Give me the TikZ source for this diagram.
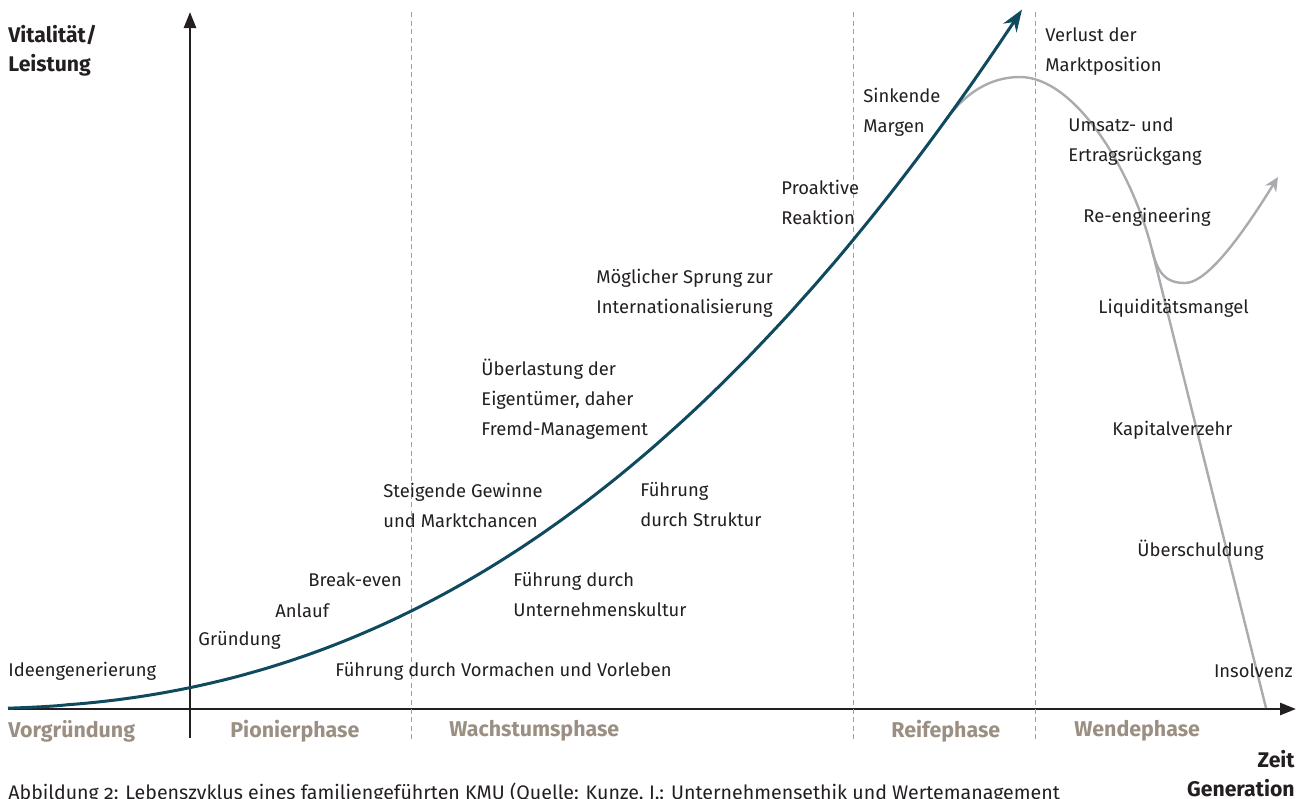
\documentclass[tikz,border=0pt]{standalone}
\usepackage{fontspec}
\setmainfont{Fira Sans}
\usetikzlibrary{arrows.meta}
\definecolor{curveblue}{HTML}{0F4A5E}
\definecolor{curvegray}{HTML}{A9ABAE}
\definecolor{dashgray}{HTML}{A69E96}
\definecolor{phasecol}{HTML}{9A8F82}
\definecolor{txt}{HTML}{231F20}
\begin{document}
\begin{tikzpicture}[x=0.5pt,y=-0.5pt,
  lbl/.style={anchor=west, inner sep=0pt, align=left, font=\fontsize{9.2}{15}\selectfont, text=txt},
  phase/.style={anchor=west, inner sep=0pt, font=\fontsize{10.7}{12}\selectfont\bfseries, text=phasecol},
  axislbl/.style={inner sep=0pt, font=\fontsize{10.6}{14.5}\selectfont\bfseries, text=txt},
  axisline/.style={line width=1.3pt, draw=txt, -{Triangle[length=8pt,width=6pt]}},
  phaseline/.style={draw=dashgray, line width=0.5pt, dash pattern=on 2.5pt off 1.8pt},
  bluecurve/.style={draw=curveblue, line width=1.5pt},
  graycurve/.style={draw=curvegray, line width=1.2pt},
  captionstyle/.style={anchor=base west, inner sep=0pt, font=\fontsize{9.8}{12}\selectfont\addfontfeatures{Numbers=OldStyle}, text=txt},
]
\useasboundingbox (0,0) rectangle (1311,798);
% axes
\coordinate (ybot) at (190,738);
\coordinate (ytop) at (190,12);
\coordinate (xl) at (8,709);
\coordinate (xr) at (1296,709);
\draw[axisline] (ybot) -- (ytop);
\draw[axisline] (xl) -- (xr);
% phase separators
\foreach \px/\nm in {411/a,853/b,1035/c}{
  \coordinate (d\nm t) at (\px,12);
  \coordinate (d\nm b) at (\px,740);
  \draw[phaseline] (d\nm t) -- (d\nm b);
}
% gray curve
\coordinate (gs) at (945,121);
\coordinate (gpeak) at (1020,77);
\coordinate (gj) at (1152,250);
\coordinate (gend) at (1266,708);
\coordinate (gmin) at (1185,283);
\coordinate (gtip) at (1278,177);
\draw[graycurve] (gs) .. controls (965,93) and (990,77) .. (gpeak)
  .. controls (1075,77) and (1132,170) .. (gj) -- (gend);
\draw[graycurve, -{Stealth[length=7pt,width=6.5pt]}] (gj) .. controls (1158,274) and (1166,283) .. (gmin)
  .. controls (1210,283) and (1250,222) .. (gtip);
% blue curve
\draw[bluecurve, -{Stealth[length=11pt,width=8pt]}] plot[domain=8:1022, samples=120, smooth] (\x, {709 - 469*pow((\x+50)/903, 2.33)});
% axis labels
\node[axislbl, anchor=west, align=left] (ylab) at (8,51) {Vitalität/\\Leistung};
\node[axislbl, anchor=east, align=right] (xlab) at (1295,774) {Zeit\\Generation};
% phases
\node[phase] (p1) at (8,731) {Vorgründung};
\node[phase] (p2) at (230,731) {Pionierphase};
\node[phase] (p3) at (449,731) {Wachstumsphase};
\node[phase] (p4) at (891,731) {Reifephase};
\node[phase] (p5) at (1074,731) {Wendephase};
% labels
\node[lbl] (l1) at (8,671) {Ideengenerierung};
\node[lbl] (l2) at (198,640) {Gründung};
\node[lbl] (l3) at (275,611) {Anlauf};
\node[lbl] (l4) at (308,580) {Break-even};
\node[lbl] (l5) at (335,671) {Führung durch Vormachen und Vorleben};
\node[lbl] (l6) at (383,505) {Steigende Gewinne\\und Marktchancen};
\node[lbl] (l7) at (513,595) {Führung durch\\Unternehmenskultur};
\node[lbl] (l8) at (481,399) {Überlastung der\\Eigentümer, daher\\Fremd-Management};
\node[lbl] (l9) at (640,505) {Führung\\durch Struktur};
\node[lbl] (l10) at (596,293) {Möglicher Sprung zur\\Internationalisierung};
\node[lbl] (l11) at (781,202) {Proaktive\\Reaktion};
\node[lbl] (l12) at (863,112) {Sinkende\\Margen};
\node[lbl] (l13) at (1045,52) {Verlust der\\Marktposition};
\node[lbl] (l14) at (1068,142) {Umsatz- und\\Ertragsrückgang};
\node[lbl] (l15) at (1083,217) {Re-engineering};
\node[lbl] (l16) at (1098,308) {Liquiditätsmangel};
\node[lbl] (l17) at (1112,430) {Kapitalverzehr};
\node[lbl] (l18) at (1137,550) {Überschuldung};
\node[lbl, anchor=east] (l19) at (1293,671) {Insolvenz};
% caption
\node[captionstyle] (cap) at (8,799) {Abbildung 2: Lebenszyklus eines familiengeführten KMU (Quelle: Kunze, J.: Unternehmensethik und Wertemanagement};
\end{tikzpicture}
\end{document}
